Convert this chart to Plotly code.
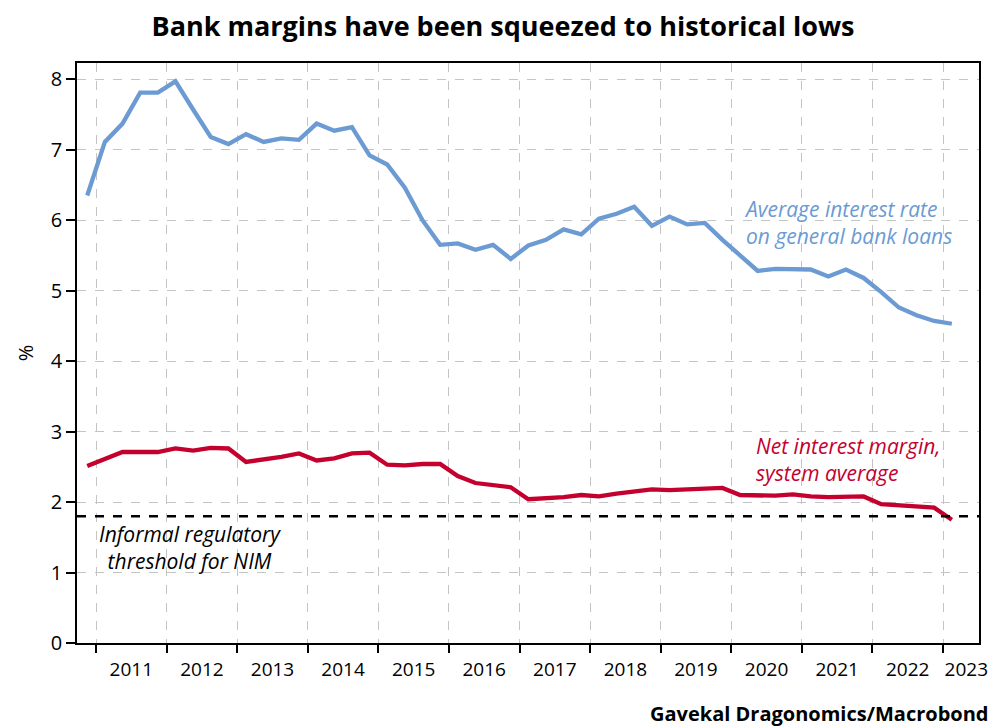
import plotly.graph_objects as go

# Quarterly data, 2010 Q4 to 2023 Q1
quarters = (["2010Q4"] +
            [f"{y}Q{q}" for y in range(2011, 2023) for q in range(1, 5)] +
            ["2023Q1"])

loan_rate = [6.35,
             7.11, 7.37, 7.81, 7.81,
             7.97, 7.57, 7.18, 7.08,
             7.22, 7.11, 7.16, 7.14,
             7.37, 7.27, 7.32, 6.92,
             6.79, 6.46, 6.00, 5.65,
             5.67, 5.58, 5.65, 5.45,
             5.64, 5.72, 5.87, 5.80,
             6.02, 6.09, 6.19, 5.92,
             6.05, 5.94, 5.96, 5.72,
             5.49, 5.28, 5.31, 5.31,
             5.30, 5.20, 5.30, 5.18,
             4.98, 4.76, 4.65, 4.57,
             4.53]

nim = [2.51,
       2.61, 2.71, 2.71, 2.71,
       2.76, 2.73, 2.77, 2.76,
       2.57, 2.60, 2.64, 2.69,
       2.59, 2.62, 2.69, 2.70,
       2.53, 2.52, 2.54, 2.54,
       2.37, 2.27, 2.24, 2.21,
       2.04, 2.05, 2.07, 2.10,
       2.08, 2.12, 2.15, 2.18,
       2.17, 2.18, 2.19, 2.20,
       2.10, 2.09, 2.09, 2.11,
       2.08, 2.07, 2.07, 2.08,
       1.97, 1.95, 1.94, 1.92,
       1.75]

threshold = 1.8
year_labels = [str(y) for y in range(2011, 2024)]
year_bounds = list(range(2011, 2024))
y_ticks = list(range(0, 9))

# mid-quarter decimal positions
x = [int(q[:4]) + (int(q[-1]) - 1) * 0.25 + 0.125 for q in quarters]

BLUE = "#6b9bd2"
RED = "#c4002f"
FONT = "Open Sans"

fig = go.Figure()
fig.add_trace(go.Scatter(x=x, y=loan_rate, mode="lines",
                         line=dict(color=BLUE, width=4.3), showlegend=False))
fig.add_trace(go.Scatter(x=x, y=nim, mode="lines",
                         line=dict(color=RED, width=4.3), showlegend=False))
fig.add_hline(y=threshold, line=dict(color="black", width=2.5, dash="dash"))

label_pos = [y + 0.5 for y in range(2011, 2023)] + [2023.33]

# page body has an 8px default margin, so the figure is 990x719
fig.update_layout(
    width=990, height=719,
    margin=dict(l=69, r=19, t=55, b=84, autoexpand=False),
    paper_bgcolor="white", plot_bgcolor="white",
    font=dict(family=FONT, size=19, color="black"),
    title=dict(text="<b>Bank margins have been squeezed to historical lows</b>",
               x=0.5, xanchor="center", y=0.9736, yanchor="middle",
               font=dict(family=FONT, size=27, color="black")),
    xaxis=dict(range=[2010.73, 2023.51], tickmode="array",
               tickvals=label_pos, ticktext=year_labels, ticks="",
               ticklabelstandoff=8,
               showgrid=False, zeroline=False,
               showline=True, linecolor="black", linewidth=1.5, mirror=True,
               tickfont=dict(size=19),
               minor=dict(tickmode="array", tickvals=year_bounds,
                          ticks="outside", ticklen=8, tickwidth=1.5,
                          tickcolor="black", showgrid=True,
                          gridcolor="#c4c4c4", griddash="dash", gridwidth=1)),
    yaxis=dict(range=[0, 8.23], tickmode="array", tickvals=y_ticks,
               ticks="outside", ticklen=9, tickwidth=1.5, tickcolor="black",
               showgrid=True, gridcolor="#c4c4c4", griddash="dash", gridwidth=1,
               zeroline=False, showline=True, linecolor="black",
               linewidth=1.5, mirror=True, tickfont=dict(size=20),
               title=dict(text="%", font=dict(size=20), standoff=12)),
)

fig.add_annotation(x=2020.15, y=5.97, xref="x", yref="y", xanchor="left",
                   yanchor="middle", align="left", showarrow=False,
                   text="<i>Average interest rate<br>on general bank loans</i>",
                   font=dict(family=FONT, size=21, color=BLUE))
fig.add_annotation(x=2020.32, y=2.60, xref="x", yref="y", xanchor="left",
                   yanchor="middle", align="left", showarrow=False,
                   text="<i>Net interest margin,<br>system average</i>",
                   font=dict(family=FONT, size=21, color=RED))
fig.add_annotation(x=2012.33, y=1.36, xref="x", yref="y", xanchor="center",
                   yanchor="middle", align="center", showarrow=False,
                   text="<i>Informal regulatory<br>threshold for NIM</i>",
                   font=dict(family=FONT, size=21, color="black"))
fig.add_annotation(x=1.0122, y=-0.1224, xref="paper", yref="paper",
                   showarrow=False, text="<b>Gavekal Dragonomics/Macrobond</b>",
                   font=dict(family=FONT, size=20, color="black"),
                   xanchor="right", yanchor="middle")

fig.write_html("out.html")
